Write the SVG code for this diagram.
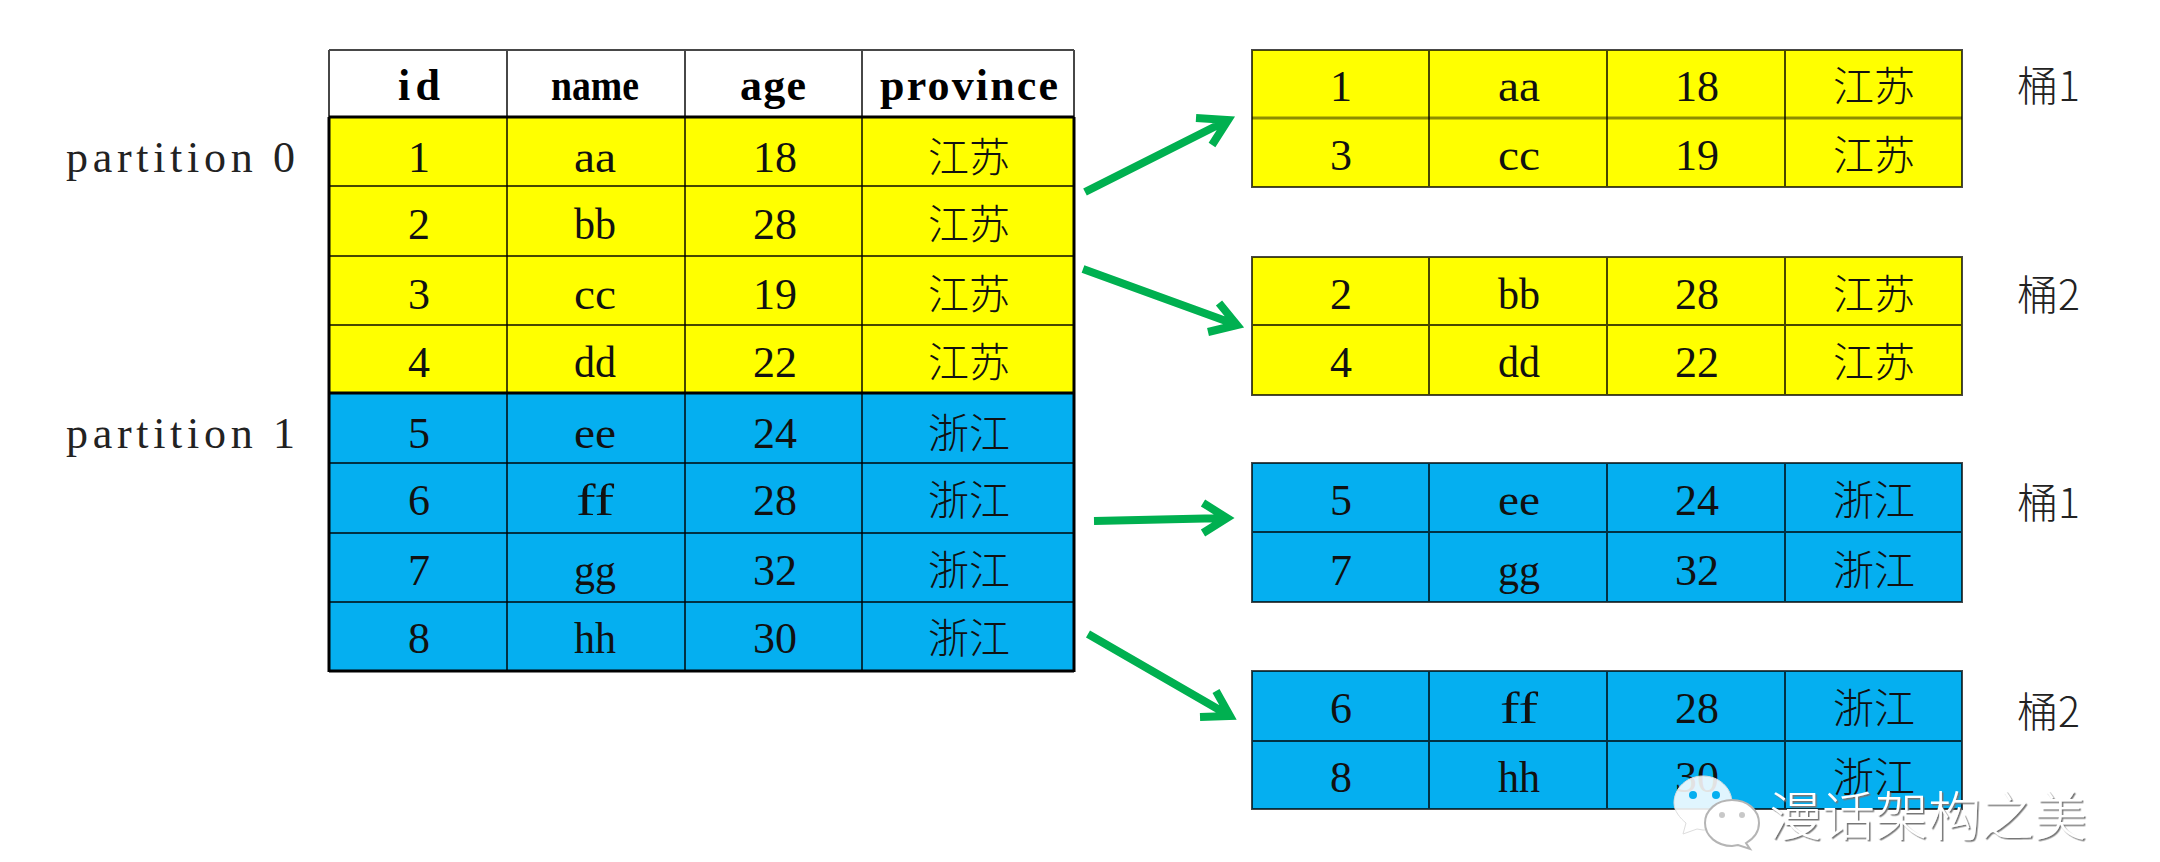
<svg xmlns="http://www.w3.org/2000/svg" width="2160" height="862" viewBox="0 0 2160 862">
<style>
.t{font-family:"Liberation Serif",serif;font-size:44px;fill:#111;text-anchor:middle}
.h{font-weight:700;fill:#000}
.l{font-family:"Liberation Serif",serif;font-size:44px;fill:#222}
.c{font-family:"Noto Sans CJK SC","Noto Sans CJK TC",sans-serif;font-size:41px;font-weight:300;fill:#111;text-anchor:middle}
.b{font-family:"Noto Sans CJK SC","Liberation Serif",sans-serif;font-size:41px;font-weight:300;fill:#222}
.y{fill:#ff0}
.u{fill:#05aff0}
.g{stroke:#000;stroke-opacity:.72;stroke-width:2;fill:none}
.k{stroke:#000;stroke-width:3;fill:none}
.a{stroke:#00b050;fill:none;stroke-width:8;stroke-miterlimit:10}
.w{font-family:"Noto Sans CJK SC",sans-serif;font-size:53px;font-weight:300;fill:#fff;filter:url(#sh)}
</style>
<defs>
<filter id="sh" x="-5%" y="-10%" width="110%" height="125%"><feDropShadow dx="1.500" dy="1.500" stdDeviation=".4" flood-color="#777"/></filter>
</defs>
<rect width="2160" height="862" fill="#fff"/>

<g id="label-partition-0"><text class="l" x="66" y="172" textLength="229" lengthAdjust="spacing">partition 0</text></g>
<g id="label-partition-1"><text class="l" x="66" y="448" textLength="229" lengthAdjust="spacing">partition 1</text></g>

<g id="table-source">
<rect x="330" y="50" width="744" height="67" fill="#fff"/>
<rect class="y" x="330" y="117" width="744" height="277"/>
<rect class="u" x="330" y="394" width="744" height="277"/>
<path class="g" d="M507 50V671M685 50V671M862 50V671M329 50H1074M329 50V117M1074 50V117"/>
<path class="g" d="M330 186H1074M330 256H1074M330 325H1074M330 463H1074M330 533H1074M330 602H1074"/>
<path class="k" d="M329 117H1074M329 393H1074M329 671H1074M329 117V672M1074 117V672"/>
<text class="t h" x="419" y="100" textLength="42" lengthAdjust="spacing">id</text>
<text class="t h" x="595" y="100" textLength="88" lengthAdjust="spacingAndGlyphs">name</text>
<text class="t h" x="773" y="100" textLength="66" lengthAdjust="spacing">age</text>
<text class="t h" x="969" y="100" textLength="178" lengthAdjust="spacing">province</text>
<text class="t" x="419" y="172">1</text><text class="t" x="595" y="172" textLength="42" lengthAdjust="spacingAndGlyphs">aa</text><text class="t" x="775" y="172">18</text><text class="c" x="969" y="172">江苏</text>
<text class="t" x="419" y="239">2</text><text class="t" x="595" y="239" textLength="42" lengthAdjust="spacingAndGlyphs">bb</text><text class="t" x="775" y="239">28</text><text class="c" x="969" y="239">江苏</text>
<text class="t" x="419" y="309">3</text><text class="t" x="595" y="309" textLength="42" lengthAdjust="spacingAndGlyphs">cc</text><text class="t" x="775" y="309">19</text><text class="c" x="969" y="309">江苏</text>
<text class="t" x="419" y="377">4</text><text class="t" x="595" y="377" textLength="42" lengthAdjust="spacingAndGlyphs">dd</text><text class="t" x="775" y="377">22</text><text class="c" x="969" y="377">江苏</text>
<text class="t" x="419" y="448">5</text><text class="t" x="595" y="448" textLength="42" lengthAdjust="spacingAndGlyphs">ee</text><text class="t" x="775" y="448">24</text><text class="c" x="969" y="448">浙江</text>
<text class="t" x="419" y="515">6</text><text class="t" x="595" y="515" textLength="38" lengthAdjust="spacingAndGlyphs">ff</text><text class="t" x="775" y="515">28</text><text class="c" x="969" y="515">浙江</text>
<text class="t" x="419" y="585">7</text><text class="t" x="595" y="585" textLength="42" lengthAdjust="spacingAndGlyphs">gg</text><text class="t" x="775" y="585">32</text><text class="c" x="969" y="585">浙江</text>
<text class="t" x="419" y="653">8</text><text class="t" x="595" y="653" textLength="42" lengthAdjust="spacingAndGlyphs">hh</text><text class="t" x="775" y="653">30</text><text class="c" x="969" y="653">浙江</text>
</g>

<g id="table-p0-bucket1">
<rect class="y" x="1252" y="50" width="710" height="137"/>
<path class="g" d="M1252 50H1962V187H1252ZM1429 50V187M1607 50V187M1785 50V187"/>
<path class="g" style="stroke-width:3;stroke-opacity:.45" d="M1252 118H1962"/>
<text class="t" x="1341" y="101">1</text><text class="t" x="1519" y="101" textLength="42" lengthAdjust="spacingAndGlyphs">aa</text><text class="t" x="1697" y="101">18</text><text class="c" x="1874" y="101">江苏</text>
<text class="t" x="1341" y="170">3</text><text class="t" x="1519" y="170" textLength="42" lengthAdjust="spacingAndGlyphs">cc</text><text class="t" x="1697" y="170">19</text><text class="c" x="1874" y="170">江苏</text>
</g>
<g id="table-p0-bucket2">
<rect class="y" x="1252" y="257" width="710" height="138"/>
<path class="g" d="M1252 257H1962V395H1252ZM1429 257V395M1607 257V395M1785 257V395M1252 325H1962"/>
<text class="t" x="1341" y="309">2</text><text class="t" x="1519" y="309" textLength="42" lengthAdjust="spacingAndGlyphs">bb</text><text class="t" x="1697" y="309">28</text><text class="c" x="1874" y="309">江苏</text>
<text class="t" x="1341" y="377">4</text><text class="t" x="1519" y="377" textLength="42" lengthAdjust="spacingAndGlyphs">dd</text><text class="t" x="1697" y="377">22</text><text class="c" x="1874" y="377">江苏</text>
</g>
<g id="table-p1-bucket1">
<rect class="u" x="1252" y="463" width="710" height="139"/>
<path class="g" d="M1252 463H1962V602H1252ZM1429 463V602M1607 463V602M1785 463V602M1252 532H1962"/>
<text class="t" x="1341" y="515">5</text><text class="t" x="1519" y="515" textLength="42" lengthAdjust="spacingAndGlyphs">ee</text><text class="t" x="1697" y="515">24</text><text class="c" x="1874" y="515">浙江</text>
<text class="t" x="1341" y="585">7</text><text class="t" x="1519" y="585" textLength="42" lengthAdjust="spacingAndGlyphs">gg</text><text class="t" x="1697" y="585">32</text><text class="c" x="1874" y="585">浙江</text>
</g>
<g id="table-p1-bucket2">
<rect class="u" x="1252" y="671" width="710" height="138"/>
<path class="g" d="M1252 671H1962V809H1252ZM1429 671V809M1607 671V809M1785 671V809M1252 741H1962"/>
<text class="t" x="1341" y="723">6</text><text class="t" x="1519" y="723" textLength="38" lengthAdjust="spacingAndGlyphs">ff</text><text class="t" x="1697" y="723">28</text><text class="c" x="1874" y="723">浙江</text>
<text class="t" x="1341" y="792">8</text><text class="t" x="1519" y="792" textLength="42" lengthAdjust="spacingAndGlyphs">hh</text><text class="t" x="1697" y="792">30</text><text class="c" x="1874" y="792">浙江</text>
</g>

<g id="label-b1a"><text class="b" x="2017" y="101">桶1</text></g>
<g id="label-b2a"><text class="b" x="2017" y="310">桶2</text></g>
<g id="label-b1b"><text class="b" x="2017" y="518">桶1</text></g>
<g id="label-b2b"><text class="b" x="2017" y="727">桶2</text></g>

<g id="connectors">
<path class="a" d="M1085 192L1228 120M1196 118L1228 120L1212 145"/>
<path class="a" d="M1083 269L1237 325M1219 303L1237 325L1208 332"/>
<path class="a" d="M1094 521L1227 518M1203 503L1227 518L1203 533"/>
<path class="a" d="M1088 634L1230 716M1216 691L1230 716L1200 717"/>
</g>

<g id="watermark">
<path d="M1703 776C1719 776 1732 788 1732 803C1732 818 1719 830 1703 830L1697 829L1683 834L1686 823C1680 818 1674 811 1674 803C1674 788 1687 776 1703 776Z" fill="#fff" fill-opacity=".88" stroke="#ddd"/>
<circle cx="1693" cy="795" r="4" fill="#05aff0"/><circle cx="1716" cy="795" r="4" fill="#05aff0"/>
<path d="M1732 800C1747 800 1759 810 1759 823C1759 832 1753 839 1746 843L1750 849L1738 845L1732 846C1717 846 1705 836 1705 823C1705 810 1717 800 1732 800Z" fill="#fff" stroke="#b5b5b5" stroke-width="2"/>
<circle cx="1722" cy="815" r="3" fill="#c8c8c8"/><circle cx="1742" cy="815" r="3" fill="#c8c8c8"/>
<text class="w" x="1769" y="836">漫话架构之美</text>
</g>
</svg>
